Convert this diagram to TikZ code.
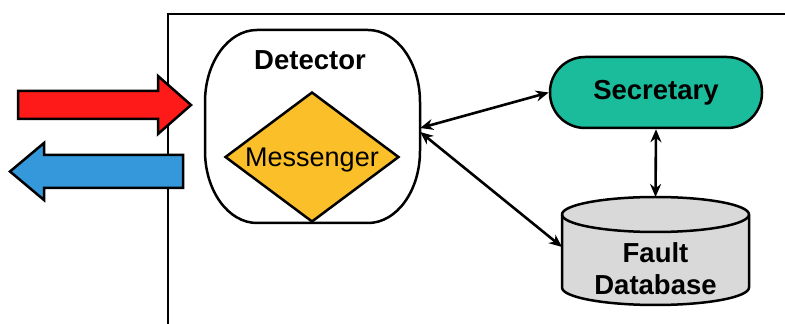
\documentclass[tikz,border=0pt]{standalone}
\usepackage{fontspec}
\setmainfont{Liberation Sans}
\usetikzlibrary{arrows.meta,shapes.geometric,calc}

\definecolor{inred}{HTML}{FF1A1A}
\definecolor{outblue}{HTML}{3498DB}
\definecolor{msgorange}{HTML}{FBBF2A}
\definecolor{secteal}{HTML}{1ABC9C}
\definecolor{dbgray}{HTML}{D9D9D9}

\tikzset{
  bigarrow/.style={draw=black, line width=2.5pt, line join=miter},
  outline/.style={draw=black, line width=2.5pt},
  label26/.style={font=\fontsize{27}{31}\selectfont, inner sep=0pt, align=center},
  boldlabel/.style={label26, font=\fontsize{27.5}{32}\selectfont\bfseries},
  link/.style={line width=2.6pt, {Stealth[length=13pt,width=11pt]}-{Stealth[length=13pt,width=11pt]}}
}

\begin{document}
\begin{tikzpicture}[x=1pt,y=1pt]
  \useasboundingbox (0,0) rectangle (785,324);

  % system boundary
  \draw[line width=1.6pt] (168,0) -- (168,310) -- (785,310);

  % incoming and outgoing block arrows
  \path[bigarrow, fill=inred]
    (18,233) -- (158,233) -- (158,248) -- (191,219) -- (158,190) -- (158,205) -- (18,205) -- cycle;
  \path[bigarrow, fill=outblue]
    (183,169) -- (44,169) -- (44,181) -- (10,152.5) -- (44,124) -- (44,136) -- (183,136) -- cycle;

  % detector: box with elliptical corners, plus an anchor node
  \node[minimum width=215pt, minimum height=193pt, inner sep=0pt] (det) at (312.5,197.5) {};
  \path[outline, fill=white]
    (257,294) -- (368,294)
    arc[start angle=90, end angle=0, x radius=52pt, y radius=72pt] -- (420,173)
    arc[start angle=0, end angle=-90, x radius=52pt, y radius=72pt] -- (257,101)
    arc[start angle=270, end angle=180, x radius=52pt, y radius=72pt] -- (205,222)
    arc[start angle=180, end angle=90, x radius=52pt, y radius=72pt] -- cycle;
  \node[boldlabel] (detlabel) at (310,264) {Detector};
  \node[outline, diamond, fill=msgorange, aspect=1.338, minimum width=174pt,
        minimum height=130pt, inner sep=0pt] (msg) at (312,167) {};
  \node[label26] (msglabel) at (312,164) {Messenger};

  % secretary
  \node[outline, fill=secteal, rounded corners=35pt, minimum width=212pt, minimum height=71pt,
        boldlabel] (sec) at (656,231.5) {Secretary};

  % fault database cylinder
  \path[outline, fill=dbgray]
    (562,109.5) -- (562,36.5)
    arc[start angle=180, end angle=360, x radius=93.5pt, y radius=17.5pt]
    -- (749,109.5)
    arc[start angle=0, end angle=180, x radius=93.5pt, y radius=17.5pt] -- cycle;
  \draw[line width=2.5pt] (562,109.5)
    arc[start angle=180, end angle=360, x radius=93.5pt, y radius=17.5pt];
  \node[boldlabel, font=\fontsize{27.5}{32}\selectfont\bfseries] (db) at (655.5,55) {Fault\\Database};
  \coordinate (dbtop) at (655.5,127);
  \coordinate (dbleft) at (562,77);

  % connection points on the detector
  \coordinate (detA) at ($(det.east)+(0,-1.5)$);
  \coordinate (detB) at ($(det.east)+(0,-5.5)$);

  % links
  \draw[link] (detA) -- (sec.west);
  \draw[link] (detB) -- (dbleft);
  \draw[link] (sec.south) -- (dbtop);
\end{tikzpicture}
\end{document}
